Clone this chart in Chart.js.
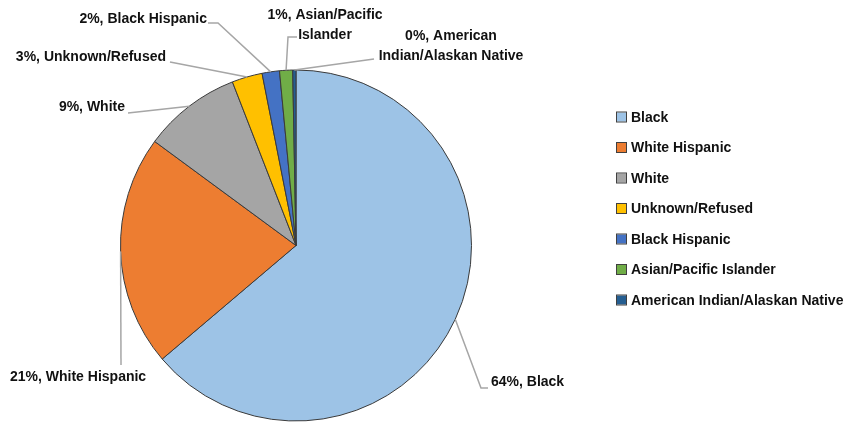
<!DOCTYPE html>
<html>
<head>
<meta charset="utf-8">
<script src="https://cdn.jsdelivr.net/npm/chart.js@4.4.0/dist/chart.umd.min.js"></script>
<style>
  body { margin: 0; background: #fff; }
</style>
</head>
<body>
<canvas id="myChart" width="847" height="423"></canvas>
<script>
// data (percent of total)
const groups = ['Black', 'White Hispanic', 'White', 'Unknown/Refused', 'Black Hispanic', 'Asian/Pacific Islander', 'American Indian/Alaskan Native'];
const shares = [63.8, 21.3, 9.0, 2.8, 1.6, 1.2, 0.3];
const colors = ['#9DC3E6', '#ED7D31', '#A5A5A5', '#FFC000', '#4472C4', '#70AD47', '#255E91'];

const FONT = 'bold 14px "Liberation Sans", Arial, sans-serif';

// where each outside label sits, and the bends of its leader line
const labelPos = [
    { x: 491, y: 382, align: 'left',   wrap: 300, leader: [[481, 388], [488, 388]] },
    { x: 10,  y: 377, align: 'left',   wrap: 300, leader: [[121, 365]] },
    { x: 125, y: 107, align: 'right',  wrap: 300, leader: [[128, 113]] },
    { x: 166, y: 57,  align: 'right',  wrap: 300, leader: [[170, 62]] },
    { x: 207, y: 19,  align: 'right',  wrap: 300, leader: [[218, 23], [208, 23]] },
    { x: 325, y: 15,  align: 'center', wrap: 130, leader: [[288, 37], [297, 37]] },
    { x: 451, y: 36,  align: 'center', wrap: 165, leader: [[374, 59]] }
];

function wrapText(ctx, text, maxW) {
    const words = text.split(' ');
    const lines = [];
    let cur = '';
    words.forEach(w => {
        const test = cur ? cur + ' ' + w : w;
        if (ctx.measureText(test).width > maxW && cur) {
            lines.push(cur);
            cur = w;
        } else {
            cur = test;
        }
    });
    lines.push(cur);
    return lines;
}

//labels with leader lines
const outsideLabels = {
    id: 'outsideLabels',
    afterDraw(chart) {
        const ctx = chart.ctx;
        const meta = chart.getDatasetMeta(0);
        const vals = chart.data.datasets[0].data;
        const total = vals.reduce((a, b) => a + b, 0);
        ctx.save();
        ctx.font = FONT;
        meta.data.forEach((arc, i) => {
            const p = labelPos[i];
            const mid = (arc.startAngle + arc.endAngle) / 2;
            const sx = arc.x + Math.cos(mid) * arc.outerRadius;
            const sy = arc.y + Math.sin(mid) * arc.outerRadius;

            ctx.strokeStyle = '#A6A6A6';
            ctx.lineWidth = 1.5;
            ctx.beginPath();
            ctx.moveTo(sx, sy);
            p.leader.forEach(pt => ctx.lineTo(pt[0], pt[1]));
            ctx.stroke();

            const txt = Math.round(vals[i] / total * 100) + '%, ' + chart.data.labels[i];
            const lines = wrapText(ctx, txt, p.wrap);
            ctx.fillStyle = '#111';
            ctx.textAlign = p.align;
            ctx.textBaseline = 'middle';
            lines.forEach((l, k) => ctx.fillText(l, p.x, p.y + k * 20.5));
        });
        ctx.restore();
    }
};

// legend on the right
const sideLegend = {
    id: 'sideLegend',
    afterDraw(chart) {
        const ctx = chart.ctx;
        const ds = chart.data.datasets[0];
        ctx.save();
        ctx.font = FONT;
        chart.data.labels.forEach((lab, i) => {
            const y = 117 + i * 30.5;
            ctx.fillStyle = ds.backgroundColor[i];
            ctx.fillRect(617, y - 4.5, 9, 9);
            ctx.strokeStyle = '#404040';
            ctx.lineWidth = 1;
            ctx.strokeRect(616.5, y - 5, 10, 10);
            ctx.fillStyle = '#111';
            ctx.textAlign = 'left';
            ctx.textBaseline = 'middle';
            ctx.fillText(lab, 631, y + 1);
        });
        ctx.restore();
    }
};

const ctx = document.getElementById('myChart').getContext('2d');
const myChart = new Chart(ctx, {
    type: 'pie',
    data: {
        labels: groups,
        datasets: [{
            data: shares,
            backgroundColor: colors,
            borderColor: '#3a3a3a',
            borderWidth: 1
        }]
    },
    options: {
        responsive: false,
        animation: false,
        layout: { padding: { left: 120, right: 375, top: 69, bottom: 1 } },
        plugins: {
            legend: { display: false },
            tooltip: { enabled: false }
        }
    },
    plugins: [outsideLabels, sideLegend]
});
</script>
</body>
</html>
